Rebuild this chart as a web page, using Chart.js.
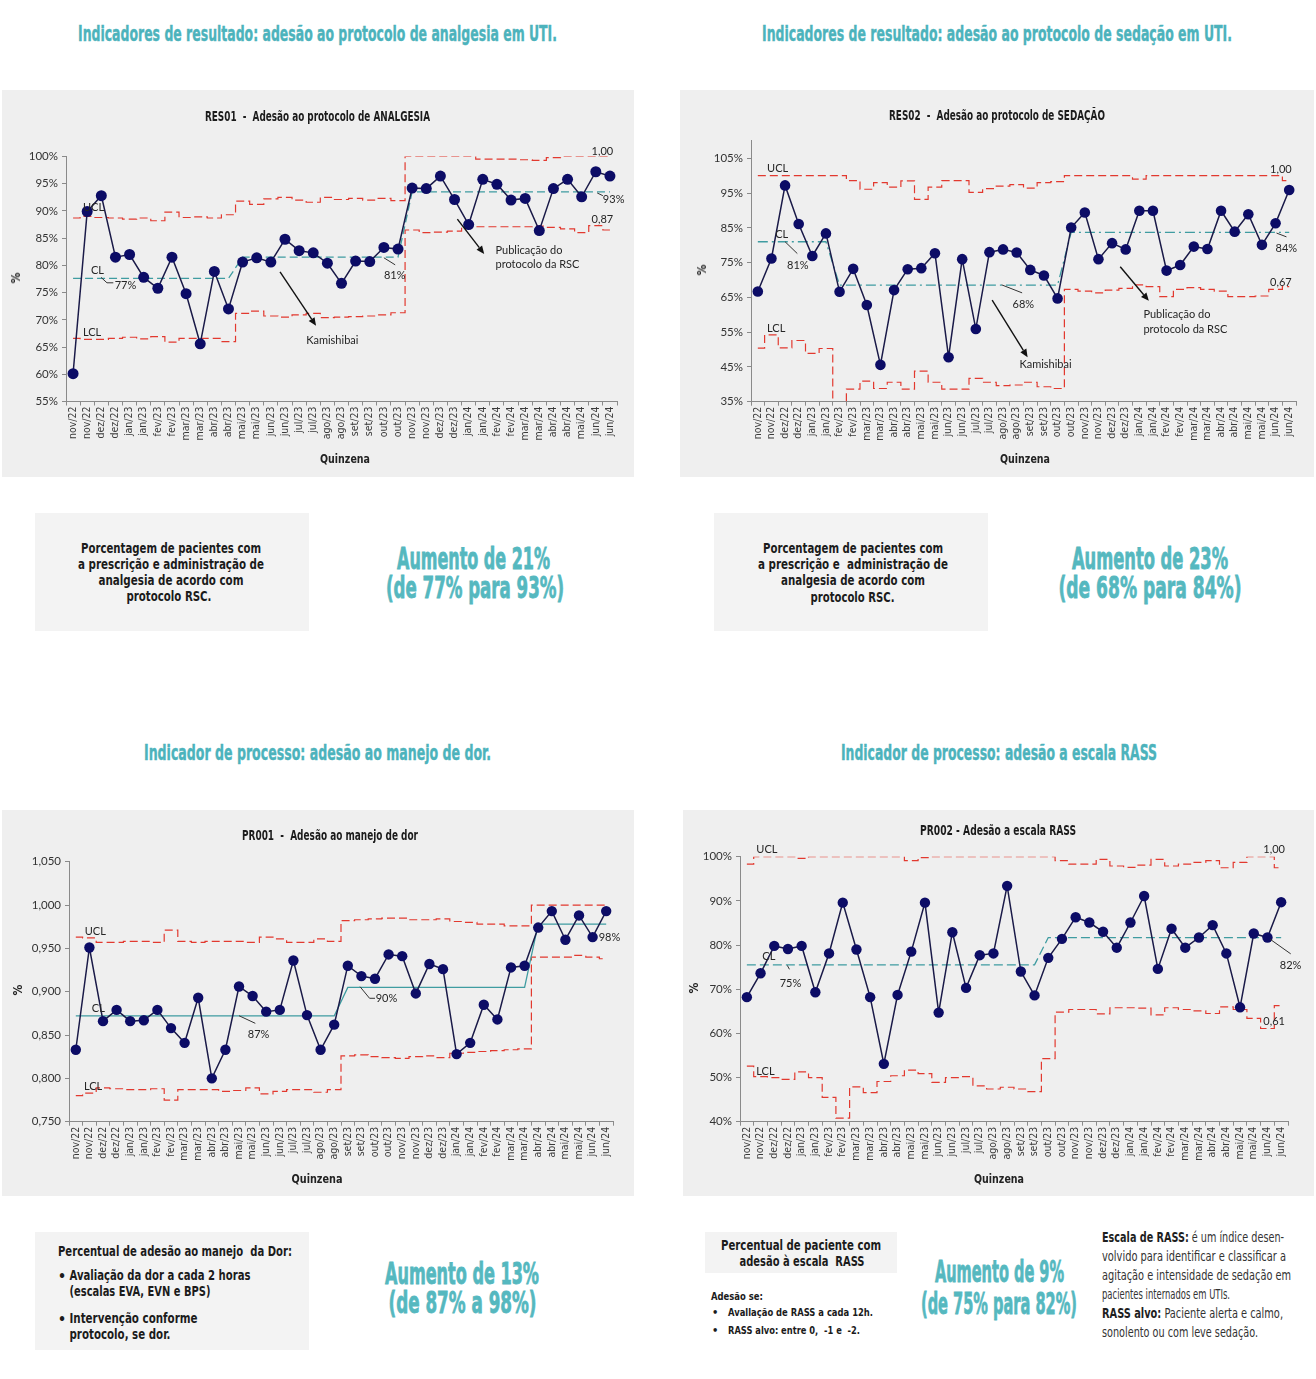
<!DOCTYPE html>
<html><head><meta charset="utf-8">
<script src="https://cdn.jsdelivr.net/npm/chart.js@4.4.1/dist/chart.umd.min.js"></script>
<style>
html,body{margin:0;padding:0;background:#fff;}
body{width:1316px;height:1379px;position:relative;overflow:hidden;}
canvas.cv{position:absolute;background:#efefef;}
.box{position:absolute;background:#f3f3f3;}
.t{position:absolute;white-space:pre;line-height:1;left:0;top:0;transform-origin:0 0;}
.h{font:bold 22px "Liberation Sans Narrow","DejaVu Sans Condensed",Roboto,sans-serif;color:#4cb3bc;-webkit-text-stroke:0.4px #4cb3bc;}
.big{font:bold 30px "Liberation Sans Narrow","DejaVu Sans Condensed",Roboto,sans-serif;color:#55b8bf;-webkit-text-stroke:0.8px #55b8bf;}
.ct{font:bold 14px "Liberation Sans Narrow","DejaVu Sans Condensed",Roboto,sans-serif;color:#1b1b1b;}
.ax{font:bold 12px "Liberation Sans Narrow","DejaVu Sans Condensed",Roboto,sans-serif;color:#222;}
.bx{font:bold 14px "Liberation Sans Narrow","DejaVu Sans Condensed",Roboto,sans-serif;color:#1b1b1b;}
.sm{font:bold 11px "Liberation Sans Narrow","DejaVu Sans Condensed",Roboto,sans-serif;color:#1b1b1b;}
.rt{font:14px "Liberation Sans Narrow","DejaVu Sans Condensed",Roboto,sans-serif;color:#333;}
.rt b{color:#1e1e1e;}
</style>
</head><body>

<!-- chart panels -->
<canvas class="cv" id="res01" width="632" height="387" style="left:2px;top:90px;width:632px;height:387px"></canvas>
<canvas class="cv" id="res02" width="634" height="387" style="left:680px;top:90px;width:634px;height:387px"></canvas>
<canvas class="cv" id="pr001" width="632" height="386" style="left:2px;top:810px;width:632px;height:386px"></canvas>
<canvas class="cv" id="pr002" width="631" height="386" style="left:683px;top:810px;width:631px;height:386px"></canvas>

<!-- text boxes -->
<div class="box" style="left:35px;top:513px;width:274px;height:118px"></div>
<div class="box" style="left:714px;top:513px;width:274px;height:118px"></div>
<div class="box" style="left:35px;top:1232px;width:274px;height:118px"></div>
<div class="box" style="left:705px;top:1232px;width:192px;height:41px"></div>

<!-- headings -->
<div class="t h" data-x="317.5" data-y="33" data-w="479">Indicadores de resultado: adesão ao protocolo de analgesia em UTI.</div>
<div class="t h" data-x="997" data-y="33" data-w="470">Indicadores de resultado: adesão ao protocolo de sedação em UTI.</div>
<div class="t h" data-x="317.5" data-y="752" data-w="347">Indicador de processo: adesão ao manejo de dor.</div>
<div class="t h" data-x="999" data-y="752" data-w="316">Indicador de processo: adesão a escala RASS</div>

<!-- chart titles -->
<div class="t ct" data-x="317.5" data-y="116" data-w="225">RES01  -  Adesão ao protocolo de ANALGESIA</div>
<div class="t ct" data-x="997" data-y="115" data-w="216">RES02  -  Adesão ao protocolo de SEDAÇÃO</div>
<div class="t ct" data-x="330" data-y="835" data-w="176">PR001  -  Adesão ao manejo de dor</div>
<div class="t ct" data-x="998" data-y="830" data-w="156">PR002 - Adesão a escala RASS</div>

<!-- axis titles -->
<div class="t ax" data-x="345" data-y="459" data-w="50">Quinzena</div>
<div class="t ax" data-x="1025" data-y="459" data-w="50">Quinzena</div>
<div class="t ax" data-x="317" data-y="1179" data-w="51">Quinzena</div>
<div class="t ax" data-x="999" data-y="1179" data-w="50">Quinzena</div>
<div class="t ax" data-x="16" data-y="278" data-rot="1">%</div>
<div class="t ax" data-x="702" data-y="270" data-rot="1">%</div>
<div class="t ax" data-x="18" data-y="990" data-rot="1">%</div>
<div class="t ax" data-x="694" data-y="988" data-rot="1">%</div>

<!-- box 1 -->
<div class="t bx" data-x="171" data-y="548" data-w="180">Porcentagem de pacientes com</div>
<div class="t bx" data-x="171" data-y="564" data-w="186">a prescrição e administração de</div>
<div class="t bx" data-x="171" data-y="580" data-w="145">analgesia de acordo com</div>
<div class="t bx" data-x="169" data-y="596" data-w="85">protocolo RSC.</div>
<div class="t big" data-x="473.5" data-y="558" data-w="153">Aumento de 21%</div>
<div class="t big" data-x="475" data-y="587" data-w="178">(de 77% para 93%)</div>

<!-- box 2 -->
<div class="t bx" data-x="853" data-y="548" data-w="180">Porcentagem de pacientes com</div>
<div class="t bx" data-x="853" data-y="564" data-w="190">a prescrição e  administração de</div>
<div class="t bx" data-x="853" data-y="580" data-w="144">analgesia de acordo com</div>
<div class="t bx" data-x="852.5" data-y="597" data-w="84">protocolo RSC.</div>
<div class="t big" data-x="1150" data-y="558" data-w="156">Aumento de 23%</div>
<div class="t big" data-x="1150" data-y="587" data-w="183">(de 68% para 84%)</div>

<!-- box 3 -->
<div class="t bx" data-x="58" data-y="1251" data-w="234" data-a="l">Percentual de adesão ao manejo  da Dor:</div>
<div class="t bx" data-x="58" data-y="1276" data-a="l">•</div>
<div class="t bx" data-x="69.5" data-y="1275" data-w="181" data-a="l">Avaliação da dor a cada 2 horas</div>
<div class="t bx" data-x="69.5" data-y="1291" data-w="141" data-a="l">(escalas EVA, EVN e BPS)</div>
<div class="t bx" data-x="58" data-y="1319" data-a="l">•</div>
<div class="t bx" data-x="69.5" data-y="1318" data-w="128" data-a="l">Intervenção conforme</div>
<div class="t bx" data-x="69.5" data-y="1334" data-w="101" data-a="l">protocolo, se dor.</div>
<div class="t big" data-x="462" data-y="1273" data-w="154">Aumento de 13%</div>
<div class="t big" data-x="462.5" data-y="1302" data-w="148">(de 87% a 98%)</div>

<!-- box 4 -->
<div class="t bx" data-x="801" data-y="1245" data-w="160">Percentual de paciente com</div>
<div class="t bx" data-x="802" data-y="1261" data-w="125">adesão à escala  RASS</div>
<div class="t sm" data-x="711" data-y="1296" data-w="52" data-a="l">Adesão se:</div>
<div class="t sm" data-x="712" data-y="1312" data-a="l">•</div>
<div class="t sm" data-x="728" data-y="1312" data-w="145" data-a="l">Avallação de RASS a cada 12h.</div>
<div class="t sm" data-x="712" data-y="1330" data-a="l">•</div>
<div class="t sm" data-x="728" data-y="1330" data-w="132" data-a="l">RASS alvo: entre 0,  -1 e  -2.</div>
<div class="t big" data-x="999.5" data-y="1271" data-w="129">Aumento de 9%</div>
<div class="t big" data-x="999" data-y="1303" data-w="156">(de 75% para 82%)</div>

<div class="t rt" data-x="1102" data-y="1237" data-w="182" data-a="l"><b>Escala de RASS:</b> é um índice desen-</div>
<div class="t rt" data-x="1102" data-y="1256" data-w="184" data-a="l">volvido para identificar e classificar a</div>
<div class="t rt" data-x="1102" data-y="1275" data-w="189" data-a="l">agitação e intensidade de sedação em</div>
<div class="t rt" data-x="1102" data-y="1294" data-w="128" data-a="l">pacientes internados em UTIs.</div>
<div class="t rt" data-x="1102" data-y="1313" data-w="181" data-a="l"><b>RASS alvo:</b> Paciente alerta e calmo,</div>
<div class="t rt" data-x="1102" data-y="1332" data-w="156" data-a="l">sonolento ou com leve sedação.</div>

<script>
// ---------------- DATA ----------------
const categoriesRES01 = ['nov/22','nov/22','dez/22','dez/22','jan/23','jan/23','fev/23','fev/23','mar/23','mar/23','abr/23','abr/23','mai/23','mai/23','jun/23','jun/23','jul/23','jul/23','ago/23','ago/23','set/23','set/23','out/23','out/23','nov/23','nov/23','dez/23','dez/23','jan/24','jan/24','fev/24','fev/24','mar/24','mar/24','abr/24','abr/24','mai/24','jun/24','jun/24'];
const categories40 = ['nov/22','nov/22','dez/22','dez/22','jan/23','jan/23','fev/23','fev/23','mar/23','mar/23','abr/23','abr/23','mai/23','mai/23','jun/23','jun/23','jul/23','jul/23','ago/23','ago/23','set/23','set/23','out/23','out/23','nov/23','nov/23','dez/23','dez/23','jan/24','jan/24','fev/24','fev/24','mar/24','mar/24','abr/24','abr/24','mai/24','mai/24','jun/24','jun/24'];

// RES01 - analgesia (%)
const res01Values = [60.1,89.9,92.8,81.5,82.0,77.8,75.8,81.5,74.8,65.6,78.9,72.0,80.6,81.4,80.6,84.8,82.7,82.3,80.4,76.7,80.8,80.7,83.3,83.0,94.2,94.1,96.4,92.1,87.5,95.8,94.9,92.0,92.3,86.4,94.1,95.8,92.6,97.2,96.4];
const res01CL  = [77.6,77.6,77.6,77.6,77.6,77.6,77.6,77.6,77.6,77.6,77.6,77.6,81.5,81.5,81.5,81.5,81.5,81.5,81.5,81.5,81.5,81.5,81.5,81.5,93.5,93.5,93.5,93.5,93.5,93.5,93.5,93.5,93.5,93.5,93.5,93.5,93.5,93.5,93.5];
const res01UCL = [88.7,89.0,88.8,88.7,88.5,88.7,88.2,89.8,88.8,88.9,88.7,89.3,91.8,91.2,92.2,92.5,92.0,91.6,92.5,92.1,92.3,92.0,92.3,91.9,100,100,100,100,100,99.5,99.5,99.5,99.4,99.3,99.8,100,100,100,100];
const res01LCL = [66.6,66.4,66.4,66.6,66.8,66.5,66.9,65.9,66.6,66.6,66.6,66.0,71.2,71.6,70.7,70.5,70.9,71.2,70.4,70.5,70.6,70.7,70.9,71.3,86.5,86.0,86.1,86.3,87.1,87.1,87.1,87.1,87.1,87.2,87.0,86.7,86.0,87.3,86.5];
const res01Ticks = [55,60,65,70,75,80,85,90,95,100];

// RES02 - sedação (%)
const res02Values = [66.7,76.2,97.2,86.1,76.9,83.4,66.6,73.2,62.8,45.6,67.1,73.1,73.4,77.7,47.8,76.0,55.9,78.0,78.8,77.9,72.9,71.3,64.7,85.1,89.4,76.0,80.6,78.8,89.9,89.9,72.7,74.3,79.6,78.9,89.9,83.9,88.9,80.1,86.3,95.9];
const res02CL  = [81.0,81.0,81.0,81.0,81.0,81.0,68.5,68.5,68.5,68.5,68.5,68.5,68.5,68.5,68.5,68.5,68.5,68.5,68.5,68.5,68.5,68.5,68.5,83.7,83.7,83.7,83.7,83.7,83.7,83.7,83.7,83.7,83.7,83.7,83.7,83.7,83.7,83.7,83.7,83.7];
const res02UCL = [100,100,100,100,100,100,100,98.6,96.1,98.0,96.7,98.5,93.2,96.7,98.6,98.6,95.2,96.3,97.0,97.4,96.4,98.0,98.3,100,100,100,100,100,99.0,100,100,100,100,100,100,100,100,100,100,98.6];
const res02LCL = [50.4,54.2,50.5,52.6,48.9,50.3,30.0,38.6,40.9,38.8,40.6,38.6,43.8,40.6,38.6,38.6,41.7,40.6,39.6,39.8,40.6,39.3,38.8,67.3,66.8,66.3,67.1,67.6,68.6,68.1,65.2,67.3,67.8,67.3,66.8,65.2,65.2,65.4,67.3,68.1];
const res02Ticks = [35,45,55,65,75,85,95,105];

// PR001 - manejo de dor (proporção)
const pr001Values = [0.833,0.951,0.866,0.879,0.866,0.867,0.879,0.858,0.841,0.893,0.800,0.833,0.906,0.895,0.877,0.879,0.936,0.873,0.833,0.862,0.930,0.918,0.915,0.943,0.941,0.898,0.932,0.926,0.828,0.841,0.885,0.868,0.928,0.930,0.974,0.993,0.960,0.988,0.963,0.993];
const pr001CL  = [0.872,0.872,0.872,0.872,0.872,0.872,0.872,0.872,0.872,0.872,0.872,0.872,0.872,0.872,0.872,0.872,0.872,0.872,0.872,0.872,0.905,0.905,0.905,0.905,0.905,0.905,0.905,0.905,0.905,0.905,0.905,0.905,0.905,0.905,0.978,0.978,0.978,0.978,0.978,0.978];
const pr001UCL = [0.963,0.962,0.957,0.957,0.958,0.958,0.957,0.971,0.958,0.957,0.958,0.958,0.958,0.957,0.963,0.961,0.957,0.957,0.961,0.958,0.982,0.983,0.984,0.985,0.985,0.983,0.983,0.984,0.981,0.980,0.978,0.978,0.976,0.976,1.000,1.000,1.000,1.000,1.000,1.000];
const pr001LCL = [0.780,0.783,0.789,0.788,0.787,0.787,0.788,0.775,0.787,0.787,0.787,0.785,0.786,0.789,0.782,0.785,0.787,0.787,0.784,0.787,0.826,0.827,0.825,0.824,0.823,0.825,0.826,0.824,0.829,0.830,0.831,0.832,0.833,0.834,0.940,0.940,0.940,0.942,0.940,0.938];
const pr001Ticks = [0.75,0.80,0.85,0.90,0.95,1.00,1.05];

// PR002 - escala RASS (%)
const pr002Values = [68.2,73.6,79.8,79.1,79.8,69.3,78.1,89.6,79.0,68.2,53.1,68.7,78.5,89.6,64.7,82.9,70.3,77.7,78.1,93.4,74.0,68.6,77.1,81.4,86.3,85.1,83.0,79.4,85.1,91.1,74.6,83.7,79.4,81.7,84.5,78.1,65.9,82.6,81.7,89.7];
const pr002CL  = [75.5,75.5,75.5,75.5,75.5,75.5,75.5,75.5,75.5,75.5,75.5,75.5,75.5,75.5,75.5,75.5,75.5,75.5,75.5,75.5,75.5,75.5,81.7,81.7,81.7,81.7,81.7,81.7,81.7,81.7,81.7,81.7,81.7,81.7,81.7,81.7,81.7,81.7,81.7,81.7];
const pr002UCL = [98.3,100,100,100,99.6,100,100,100,100,100,100,100,99.1,99.8,100,100,100,100,100,100,100,100,100,99.1,98.3,98.3,99.4,97.9,97.6,98.1,99.4,97.9,98.3,98.7,99.1,97.5,98.7,100,100,97.5];
const pr002LCL = [52.6,50.2,50.0,49.6,51.3,50.0,45.5,40.8,47.9,46.6,49.1,50.4,51.7,50.9,48.9,50.0,50.2,48.1,47.4,47.8,47.4,46.8,54.3,64.8,65.4,65.4,64.4,65.8,65.8,65.7,64.2,65.8,65.4,65.1,64.5,66.0,65.4,63.4,61.1,66.3];
const pr002Ticks = [40,50,60,70,80,90,100];

// ---------------- ANNOTATIONS (data coordinates: [category index, value]) ----------------
const NOTES = {
  res01: [
    {t:'text', at:[0.7,90.6], s:'UCL'},
    {t:'text', at:[1.27,79.0], s:'CL'},
    {t:'line', pts:[[1.98,77.8],[2.4,76.8],[2.85,76.8]]},
    {t:'text', at:[2.95,76.3], s:'77%'},
    {t:'text', at:[0.7,67.6], s:'LCL'},
    {t:'line', pts:[[22.0,81.4],[22.8,80.1]]},
    {t:'text', at:[22.0,78.1], s:'81%'},
    {t:'line', pts:[[37.1,93.3],[37.5,92.8]]},
    {t:'text', at:[37.5,92.2], s:'93%'},
    {t:'text', at:[36.7,100.9], s:'1,00'},
    {t:'text', at:[36.7,88.4], s:'0,87'},
    {t:'arrow', from:[14.65,78.8], to:[17.2,68.9]},
    {t:'text', at:[16.5,66.3], s:'Kamishibai'},
    {t:'arrow', from:[27.2,88.5], to:[29.1,82.1]},
    {t:'text', at:[29.9,82.7], s:'Publicação do'},
    {t:'text', at:[29.9,80.1], s:'protocolo da RSC'}
  ],
  res02: [
    {t:'text', at:[0.68,102.2], s:'UCL'},
    {t:'text', at:[1.28,83.2], s:'CL'},
    {t:'line', pts:[[2.0,81.0],[2.9,77.6]]},
    {t:'text', at:[2.15,74.3], s:'81%'},
    {t:'text', at:[0.68,56.2], s:'LCL'},
    {t:'line', pts:[[17.9,68.6],[19.4,66.3]]},
    {t:'text', at:[18.7,63.1], s:'68%'},
    {t:'line', pts:[[38.07,83.5],[38.8,82.4]]},
    {t:'text', at:[38.0,79.2], s:'84%'},
    {t:'text', at:[37.6,101.9], s:'1,00'},
    {t:'text', at:[37.6,69.4], s:'0,67'},
    {t:'arrow', from:[17.2,64.2], to:[19.8,47.8]},
    {t:'text', at:[19.2,45.6], s:'Kamishibai'},
    {t:'arrow', from:[26.6,73.8], to:[28.7,64.0]},
    {t:'text', at:[28.3,60.2], s:'Publicação do'},
    {t:'text', at:[28.3,55.9], s:'protocolo da RSC'}
  ],
  pr001: [
    {t:'text', at:[0.66,0.970], s:'UCL'},
    {t:'text', at:[1.18,0.881], s:'CL'},
    {t:'line', pts:[[12.0,0.8723],[13.2,0.8635]]},
    {t:'text', at:[12.65,0.851], s:'87%'},
    {t:'text', at:[0.6,0.7904], s:'LCL'},
    {t:'line', pts:[[20.9,0.9058],[21.6,0.8924],[22.0,0.8924]]},
    {t:'text', at:[22.05,0.8924], s:'90%'},
    {t:'text', at:[38.45,0.9628], s:'98%'}
  ],
  pr002: [
    {t:'text', at:[0.69,101.7], s:'UCL'},
    {t:'text', at:[1.13,77.4], s:'CL'},
    {t:'line', pts:[[2.95,75.4],[3.11,74.5]]},
    {t:'text', at:[2.4,71.2], s:'75%'},
    {t:'text', at:[0.69,51.3], s:'LCL'},
    {t:'line', pts:[[38.2,81.3],[39.7,78.0]]},
    {t:'text', at:[38.9,75.3], s:'82%'},
    {t:'text', at:[37.7,101.7], s:'1,00'},
    {t:'text', at:[37.7,62.6], s:'0,61'}
  ]
};

// ---------------- RENDERING ----------------
const SANS = 'Lato, "Liberation Sans", "Open Sans", sans-serif';
const COND = '"Liberation Sans Narrow", "DejaVu Sans Condensed", "Roboto Condensed", Lato, sans-serif';
Chart.defaults.font.family = SANS;

const notesPlugin = {
  id: 'notes',
  afterDatasetsDraw(chart) {
    const items = NOTES[chart.canvas.id] || [];
    const xs = chart.scales.x, ys = chart.scales.y, ctx = chart.ctx;
    const P = p => [xs.getPixelForValue(p[0]), ys.getPixelForValue(p[1])];
    ctx.save();
    for (const it of items) {
      if (it.t === 'text') {
        const [x, y] = P(it.at);
        ctx.font = '11px ' + SANS;
        ctx.fillStyle = '#262626';
        ctx.textAlign = 'left';
        ctx.textBaseline = 'middle';
        ctx.fillText(it.s, x, y);
      } else if (it.t === 'line') {
        ctx.strokeStyle = '#333';
        ctx.lineWidth = 1;
        ctx.setLineDash([]);
        ctx.beginPath();
        it.pts.forEach((p, k) => { const [x, y] = P(p); k ? ctx.lineTo(x, y) : ctx.moveTo(x, y); });
        ctx.stroke();
      } else if (it.t === 'arrow') {
        const [x1, y1] = P(it.from), [x2, y2] = P(it.to);
        const a = Math.atan2(y2 - y1, x2 - x1), L = 8, W = 3.5;
        const bx = x2 - L * Math.cos(a), by = y2 - L * Math.sin(a);
        ctx.strokeStyle = '#111'; ctx.fillStyle = '#111'; ctx.lineWidth = 1.4; ctx.setLineDash([]);
        ctx.beginPath(); ctx.moveTo(x1, y1); ctx.lineTo(bx, by); ctx.stroke();
        ctx.beginPath();
        ctx.moveTo(x2, y2);
        ctx.lineTo(bx + W * Math.sin(a), by - W * Math.cos(a));
        ctx.lineTo(bx - W * Math.sin(a), by + W * Math.cos(a));
        ctx.closePath(); ctx.fill();
      }
    }
    ctx.restore();
  }
};

function buildChart(id, o) {
  const panel = o.panel, plot = o.plot;
  return new Chart(document.getElementById(id), {
    type: 'line',
    data: {
      labels: o.labels,
      datasets: [
        {data: o.values, borderColor: '#1a1a48', borderWidth: 1.5, tension: 0,
         pointRadius: o.pr, pointHoverRadius: o.pr, pointBackgroundColor: '#0c0c66', pointBorderColor: '#0c0c66', pointBorderWidth: 0, order: 0},
        {data: o.cl, borderColor: '#3f9ca1', borderWidth: 1.3, borderDash: o.clDash, pointRadius: 0, order: 1},
        {data: o.ucl, borderColor: '#e2392f', borderWidth: 1.2, borderDash: [8, 4], stepped: 'middle', pointRadius: 0, order: 2},
        {data: o.lcl, borderColor: '#e2392f', borderWidth: 1.2, borderDash: [8, 4], stepped: 'middle', pointRadius: 0, order: 3}
      ]
    },
    options: {
      responsive: false, animation: false, events: [],
      layout: {padding: {left: 0, top: plot.t - panel.y, right: panel.x + panel.w - plot.r, bottom: 0}},
      plugins: {legend: {display: false}, tooltip: {enabled: false}, title: {display: false}},
      scales: {
        x: {
          type: 'category', offset: true,
          grid: {display: true, drawOnChartArea: false, drawTicks: true, tickLength: 4, color: '#8a8a8a', offset: true},
          border: {display: true, color: '#8a8a8a', width: 1},
          ticks: {autoSkip: false, maxRotation: 90, minRotation: 90, padding: 1, color: '#3a3a3a', font: {family: COND, size: 10.5}},
          afterFit(s) { s.height = panel.y + panel.h - plot.b; s.paddingLeft = 0; s.paddingRight = 0; }
        },
        y: {
          type: 'linear', min: o.min, max: o.max,
          grid: {display: true, drawOnChartArea: false, drawTicks: true, tickLength: 4, color: '#8a8a8a'},
          border: {display: true, color: '#8a8a8a', width: 1},
          afterBuildTicks(s) { s.ticks = o.ticks.map(v => ({value: v})); },
          ticks: {padding: 4, color: '#333', font: {family: SANS, size: 11.5}, callback: o.fmt},
          afterFit(s) { s.width = plot.l - panel.x; s.paddingTop = 0; s.paddingBottom = 0; }
        }
      }
    },
    plugins: [notesPlugin]
  });
}

const pct = v => Math.round(v) + '%';
const dec3 = v => v.toFixed(3).replace('.', ',');

buildChart('res01', {labels: categoriesRES01, values: res01Values, cl: res01CL, ucl: res01UCL, lcl: res01LCL,
  ticks: res01Ticks, min: 55, max: 100, fmt: pct, pr: 5.5, clDash: [8, 4],
  panel: {x: 2, y: 90, w: 632, h: 387}, plot: {l: 66, r: 617, t: 156.5, b: 401.5}});
buildChart('res02', {labels: categories40, values: res02Values, cl: res02CL, ucl: res02UCL, lcl: res02LCL,
  ticks: res02Ticks, min: 35, max: 110, fmt: pct, pr: 5.3, clDash: [10, 4, 2, 4],
  panel: {x: 680, y: 90, w: 634, h: 387}, plot: {l: 751, r: 1296, t: 140.9, b: 401.7}});
buildChart('pr001', {labels: categories40, values: pr001Values, cl: pr001CL, ucl: pr001UCL, lcl: pr001LCL,
  ticks: pr001Ticks, min: 0.75, max: 1.05, fmt: dec3, pr: 5.2, clDash: [],
  panel: {x: 2, y: 810, w: 632, h: 386}, plot: {l: 69, r: 613, t: 861.7, b: 1121.7}});
buildChart('pr002', {labels: categories40, values: pr002Values, cl: pr002CL, ucl: pr002UCL, lcl: pr002LCL,
  ticks: pr002Ticks, min: 40, max: 100, fmt: pct, pr: 5.2, clDash: [9, 4],
  panel: {x: 683, y: 810, w: 631, h: 386}, plot: {l: 740, r: 1288, t: 856.7, b: 1121.7}});

// ---------------- DOM text fitting ----------------
function fitAll() {
  document.querySelectorAll('.t').forEach(el => {
    const x = +el.dataset.x, y = +el.dataset.y, w = +el.dataset.w || 0, a = el.dataset.a || 'c';
    el.style.transform = 'none';
    const r = el.getBoundingClientRect();
    const nat = r.width, h = r.height;
    el.style.left = '0px'; el.style.top = '0px';
    if (el.dataset.rot) {
      el.style.transformOrigin = '50% 50%';
      el.style.transform = `translate(${x - nat / 2}px, ${y - h / 2}px) rotate(-90deg)`;
      return;
    }
    const k = w ? w / nat : 1;
    el.style.transformOrigin = '0 0';
    const tx = a === 'c' ? x - nat * k / 2 : x;
    el.style.transform = `translate(${tx}px, ${y - h / 2}px) scaleX(${k})`;
  });
}
fitAll();
if (document.fonts && document.fonts.ready) document.fonts.ready.then(fitAll);
</script>
</body></html>
